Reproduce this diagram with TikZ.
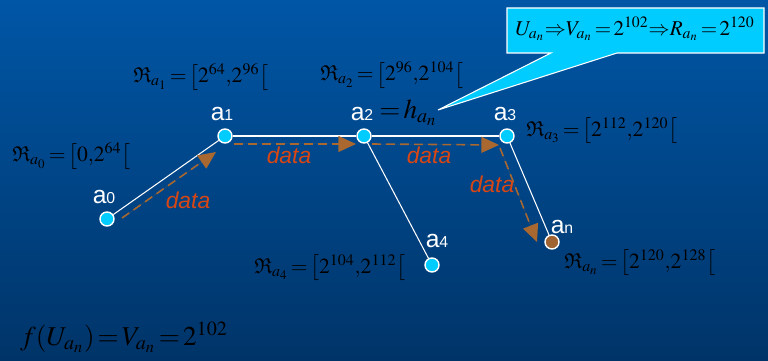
\documentclass[tikz,border=0pt]{standalone}
\usepackage{mathptmx}
\usepackage{amssymb}
\usepackage[no-math]{fontspec}
\newfontfamily\lblfont{Liberation Sans}
\usetikzlibrary{arrows.meta,positioning}

\definecolor{bgtop}{RGB}{0,86,166}
\definecolor{bgbot}{RGB}{0,52,104}
\definecolor{peercyan}{RGB}{0,204,255}
\definecolor{peerbrown}{RGB}{160,100,50}
\definecolor{flowbrown}{RGB}{168,104,48}
\definecolor{datared}{RGB}{215,70,20}

% tighter spacing round relations
\newcommand{\tightrel}{\thickmuskip 2mu\relax}

\begin{document}
\begin{tikzpicture}[
		x=0.02cm, y=-0.02cm,
		peer/.style={circle, draw=white, line width=0.8pt, fill=peercyan, minimum size=0.28cm, inner sep=0pt},
		link/.style={white, line width=0.6pt},
		flow/.style={-{Triangle[length=10pt,width=9pt]}, dash pattern=on 5pt off 3pt, draw=flowbrown, fill=flowbrown, line width=0.9pt},
		datalbl/.style={font=\lblfont\itshape\fontsize{13}{13}\selectfont, text=datared},
		peerlbl/.style={font=\lblfont\fontsize{14}{14}\selectfont, text=white},
		interval/.style={anchor=west, inner sep=0pt, font=\fontsize{12.3}{14}\selectfont\tightrel},
		bigmath/.style={anchor=west, inner sep=0pt, font=\fontsize{15.5}{18}\selectfont\tightrel}
		]
		
		% background
		\fill[top color=bgtop, bottom color=bgbot] (0,0) rectangle (768,361);
		\useasboundingbox (0,0) rectangle (768,361);
		
		% callout
		\filldraw[fill=peercyan, draw=white, line width=0.6pt] (507,8) -- (764,8) -- (764,53) -- (617,53) -- (438,110) -- (551,53) -- (507,53) -- cycle;
		\node[interval, font=\fontsize{12}{14}\selectfont\tightrel] (uv) at (515,29) {$U_{a_n}\!\Rightarrow\! V_{a_n}=2^{102}\!\Rightarrow\! R_{a_n}=2^{120}$};
		
		% peers
		\node[peer] (a0) at (107,219) {};
		\node[peer] (a1) at (225,136) {};
		\node[peer] (a2) at (364,136) {};
		\node[peer] (a3) at (507,136) {};
		\node[peer] (a4) at (432,265) {};
		\node[peer, fill=peerbrown] (an) at (552,242) {};
		
		\node[peerlbl] (la0) at (104,197) {a{\fontsize{9}{9}\selectfont 0}};
		\node[peerlbl] (la1) at (222,114) {a{\fontsize{9}{9}\selectfont 1}};
		\node[peerlbl] (la2) at (362,114) {a{\fontsize{9}{9}\selectfont 2}};
		\node[peerlbl] (la3) at (505,114) {a{\fontsize{9}{9}\selectfont 3}};
		\node[peerlbl] (la4) at (437,241) {a{\fontsize{9}{9}\selectfont 4}};
		\node[peerlbl] (lan) at (562,227) {a{\fontsize{9}{9}\selectfont n}};
		
		% links
		\draw[link] (a0) -- (a1);
		\draw[link] (a1) -- (a2);
		\draw[link] (a2) -- (a3);
		\draw[link] (a2) -- (a4);
		\draw[link] (a3) -- (an);
		
		% data flow
		\draw[flow] ([shift={(15,-1)}]a0.center) -- ([shift={(-9,16)}]a1.center);
		\draw[flow] ([shift={(9,8)}]a1.center) -- ([shift={(-8,8)}]a2.center);
		\draw[flow] ([shift={(8,8)}]a2.center) -- ([shift={(-8,9)}]a3.center);
		\draw[flow] ([shift={(-7,12)}]a3.center) -- ([shift={(-15,0)}]an.center);
		
		\node[datalbl] (d01) at (188,200) {data};
		\node[datalbl] (d12) at (289,155) {data};
		\node[datalbl] (d23) at (429,155) {data};
		\node[datalbl] (d3n) at (492,184) {data};
		
		% ranges
		\node[interval] (r0) at (12,156) {$\mathfrak{R}_{a_0}=\bigl[0{,}2^{64}\bigr[$};
		\node[interval] (r1) at (133,77) {$\mathfrak{R}_{a_1}=\bigl[2^{64}{,}2^{96}\bigr[$};
		\node[interval] (r2) at (320,75) {$\mathfrak{R}_{a_2}=\bigl[2^{96}{,}2^{104}\bigr[$};
		\node[interval] (r3) at (526,131) {$\mathfrak{R}_{a_3}=\bigl[2^{112}{,}2^{120}\bigr[$};
		\node[interval] (r4) at (254,268) {$\mathfrak{R}_{a_4}=\bigl[2^{104}{,}2^{112}\bigr[$};
		\node[interval] (rn) at (564,263) {$\mathfrak{R}_{a_n}=\bigl[2^{120}{,}2^{128}\bigr[$};
		
		\node[bigmath] (ha) at (379,113) {$=h_{a_n}$};
		\node[bigmath] (fu) at (20,337) {$f(U_{a_n})=V_{a_n}=2^{102}$};
		
	\end{tikzpicture}
\end{document}
